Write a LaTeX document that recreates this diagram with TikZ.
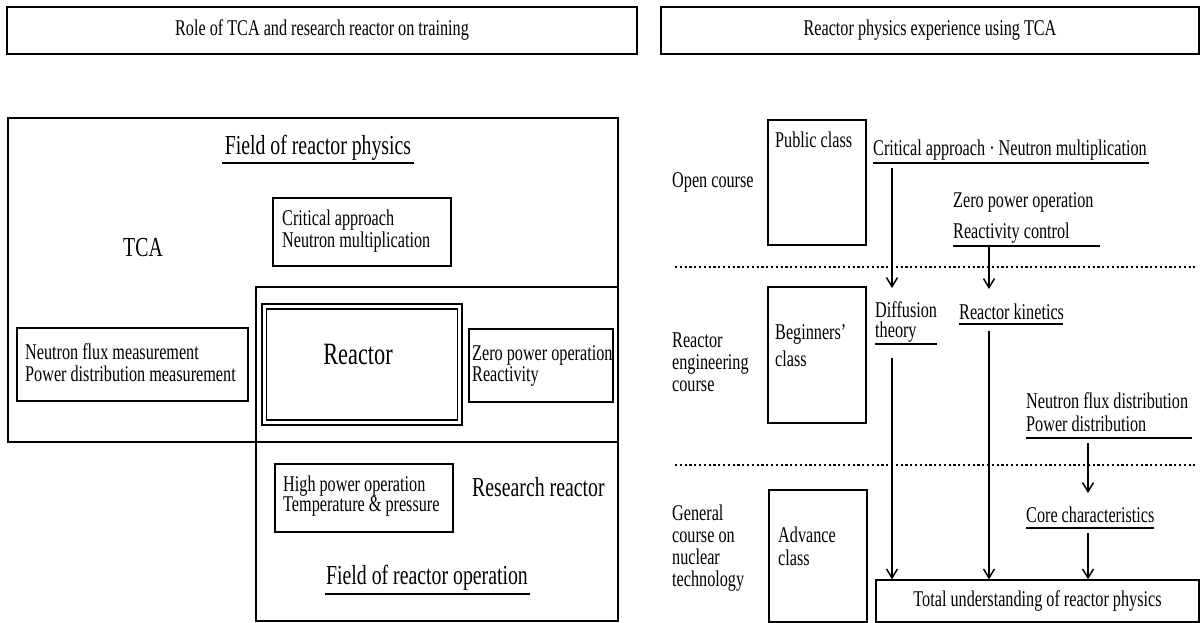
\documentclass[tikz,border=0pt]{standalone}
\usepackage{fontspec}
\setmainfont{Liberation Serif}[FakeStretch=0.72]
\usetikzlibrary{arrows.meta}
\tikzset{
  box/.style={draw, line width=1.3pt, inner sep=0pt},
  txt/.style={inner sep=0pt, font=\fontsize{22.5}{18.5}\selectfont, align=left},
  big/.style={inner sep=0pt, font=\fontsize{27.5}{30}\selectfont},
  uline/.style={line width=1.5pt},
  arr/.style={line width=1.8pt, -{Straight Barb[length=9pt,width=11pt,line width=1.5pt]}},
  dots/.style={line width=2.5pt, dash pattern=on 2.2pt off 2.6pt},
}
\begin{document}
\begin{tikzpicture}[x=1pt,y=-1pt]
\useasboundingbox (0,0) rectangle (1203,623);
% ---------- titles ----------
\node[box, txt, minimum width=630, minimum height=47] (t1) at (322,30.5) {Role of TCA and research reactor on training};
\node[box, txt, minimum width=538, minimum height=47] (t2) at (930,30.5) {Reactor physics experience using TCA};
% ---------- left part ----------
\draw[box] (8,118) rectangle (618,442);
\draw[box] (256,287) rectangle (618,621);
\node[big] (frp) at (318,148) {Field of reactor physics};
\draw[uline] (222,163) -- (414,163);
\node[big] (tca) at (143,248) {TCA};
\node[box, minimum width=178, minimum height=68] (cabox) at (362,232) {};
\node[txt, anchor=west] (ca) at (282,231) {Critical approach\\Neutron multiplication};
\node[box, minimum width=231, minimum height=73] (nfbox) at (132.5,364.5) {};
\node[txt, anchor=base west] (nf1) at (25,359) {Neutron flux measurement};
\node[txt, anchor=base west] (nf2) at (25,381.5) {Power distribution measurement};
\node[box, minimum width=200, minimum height=121] (reo) at (362,364.5) {};
\node[box, minimum width=191, minimum height=111] (rei) at (362,364.5) {};
\node[inner sep=0pt, font=\fontsize{31}{33}\selectfont] (reactor) at (358,355) {Reactor};
\node[box, minimum width=144, minimum height=73] (zpbox) at (541,365.5) {};
\node[txt, anchor=west] (zp) at (472,366) {Zero power operation\\Reactivity};
\node[box, minimum width=178, minimum height=68] (hpbox) at (364,498) {};
\node[txt, anchor=west] (hp) at (283,496) {High power operation\\Temperature \& pressure};
\node[big, anchor=west] (rr) at (472,487) {Research reactor};
\node[big] (fro) at (427,578) {Field of reactor operation};
\draw[uline] (325,594) -- (530,594);
% ---------- right part ----------
\node[txt, anchor=west] (oc) at (672,182) {Open course};
\node[txt, anchor=west, font=\fontsize{22.5}{22}\selectfont] (rec) at (672,362) {Reactor\\engineering\\course};
\node[txt, anchor=west, font=\fontsize{22.5}{22}\selectfont] (gc) at (672,548) {General\\course on\\nuclear\\technology};
\node[box, minimum width=98, minimum height=125] (pcbox) at (817,182.5) {};
\node[txt, anchor=west] (pc) at (775,140) {Public class};
\node[box, minimum width=98, minimum height=136] (bcbox) at (817,355) {};
\node[txt, anchor=west, font=\fontsize{22.5}{27}\selectfont] (bc) at (775,346) {Beginners'\\class};
\node[box, minimum width=98, minimum height=132] (acbox) at (818,556) {};
\node[txt, anchor=west, font=\fontsize{22.5}{23}\selectfont] (ac) at (778,546) {Advance\\class};
\draw[dots] (675,267) -- (1195,267);
\draw[dots] (675,465) -- (1195,465);
\node[txt, anchor=west] (cann) at (873,150) {Critical approach · Neutron multiplication};
\draw[uline] (873,163) -- (1149,163);
\node[txt, anchor=west] (zpo) at (953,202) {Zero power operation};
\node[txt, anchor=west] (rc) at (953,233) {Reactivity control};
\draw[uline] (953,246) -- (1100,246);
\node[txt, anchor=west, font=\fontsize{22.5}{20.5}\selectfont] (dt) at (875,322) {Diffusion\\theory};
\draw[uline] (875,344) -- (937,344);
\node[txt, anchor=west] (rk) at (959,312) {Reactor kinetics};
\draw[uline] (959,324) -- (1063,324);
\node[txt, anchor=base west] (nfd1) at (1026,408) {Neutron flux distribution};
\node[txt, anchor=base west] (nfd2) at (1026,431) {Power distribution};
\draw[uline] (1026,438) -- (1192,438);
\node[txt, anchor=west] (cc) at (1026,515) {Core characteristics};
\draw[uline] (1026,528) -- (1154,528);
\node[box, txt, minimum width=323, minimum height=42] (tu) at (1037.5,601) {Total understanding of reactor physics};
% arrows
\coordinate (a1s) at (892,168); \coordinate (a1e) at (892,288);
\coordinate (a2s) at (989,247); \coordinate (a2e) at (989,289);
\coordinate (a3s) at (892,358);
\coordinate (a4s) at (989,331);
\coordinate (a5s) at (1088,443); \coordinate (a5e) at (1088,493);
\coordinate (a6s) at (1088,533);
\draw[arr] (a1s) -- (a1e);
\draw[arr] (a2s) -- (a2e);
\draw[arr] (a3s) -- (a3s |- tu.north);
\draw[arr] (a4s) -- (a4s |- tu.north);
\draw[arr] (a5s) -- (a5e);
\draw[arr] (a6s) -- (a6s |- tu.north);
\end{tikzpicture}
\end{document}
